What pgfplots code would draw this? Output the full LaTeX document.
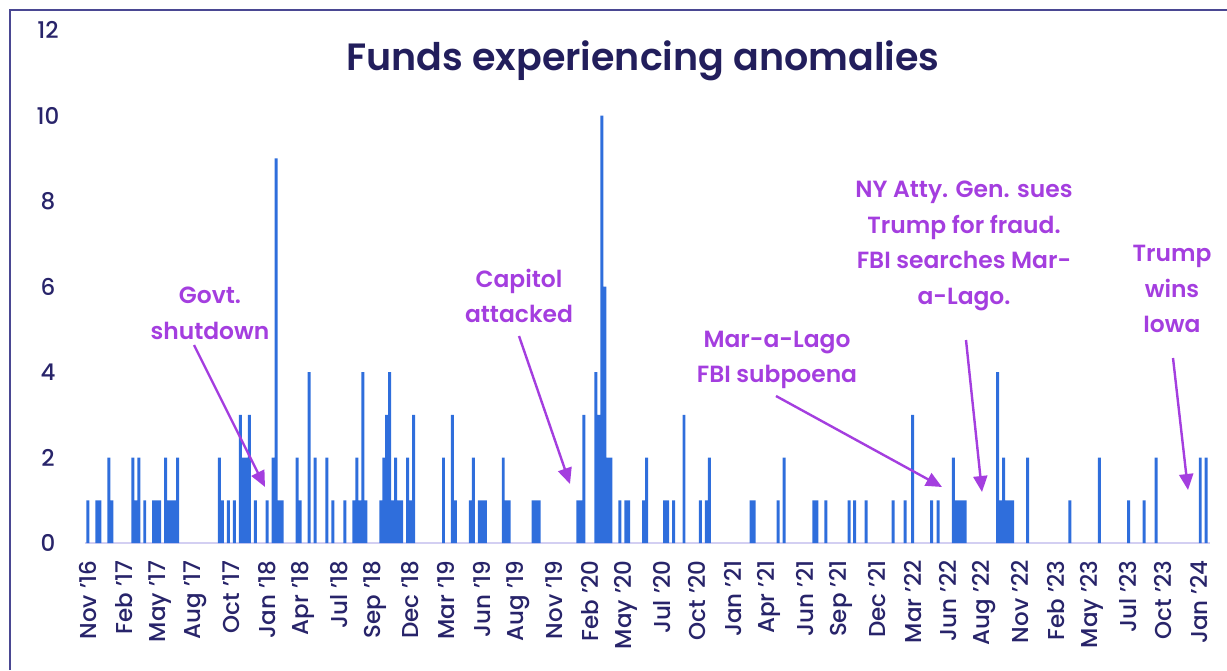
\documentclass[border=0pt]{standalone}
\usepackage{fontspec}
\setmainfont{Poppins}[UprightFont={* Medium}, BoldFont={* SemiBold}]
\usepackage{pgfplots}
\pgfplotsset{compat=1.18}
\usetikzlibrary{arrows.meta}
\definecolor{barblue}{HTML}{2F6EDC}
\definecolor{titlenavy}{HTML}{221E5C}
\definecolor{ticknavy}{HTML}{28246A}
\definecolor{annpurple}{HTML}{A43EDF}
\definecolor{basec}{HTML}{D3CFF2}
\definecolor{framec}{HTML}{4A4792}
\begin{document}
\begin{tikzpicture}
\begin{scope}[x=0.5pt,y=-0.5pt]
\useasboundingbox (0,0) rectangle (1227,670);
\draw[framec, line width=1pt] (9.5,670) -- (9.5,10) -- (1227,10);
\node[font=\fontsize{19}{22}\selectfont\bfseries, text=titlenavy] at (643,61) {Funds experiencing anomalies};
\begin{scope}[every node/.style={font=\fontsize{11.7}{17.9}\selectfont\bfseries, text=annpurple, align=center}]
\node at (210,313) {Govt.\\shutdown};
\node at (519,296) {Capitol\\attacked};
\node at (777,360) {Mar-a-Lago\\FBI subpoena};
\node at (964,246) {NY Atty. Gen. sues\\Trump for fraud.\\FBI searches Mar-\\a-Lago.};
\node at (1172,289) {Trump\\wins\\Iowa};
\end{scope}
\end{scope}
\begin{axis}[
  at={(42.5pt,-271.5pt)}, anchor=south west,
  scale only axis, width=562.7pt, height=256.5pt,
  xmin=-1, xmax=375.7, ymin=0, ymax=12,
  ybar, bar width=1,
  axis line style={draw=none},
  major tick length=0pt,
  ytick={0,2,4,6,8,10,12},
  xtick={0,12,...,372},
  xticklabels={Nov '16, Feb '17, May '17, Aug '17, Oct '17, Jan '18, Apr '18, Jul '18, Sep '18, Dec '18, Mar '19, Jun '19, Aug '19, Nov '19, Feb '20, May '20, Jul '20, Oct '20, Jan '21, Apr '21, Jun '21, Sep '21, Dec '21, Mar '22, Jun '22, Aug '22, Nov '22, Feb '23, May '23, Jul '23, Oct '23, Jan '24},
  tick label style={font=\fontsize{11.5}{13}\selectfont, text=ticknavy},
  /pgf/number format/assume math mode=true,
  xticklabel style={rotate=90, anchor=east, inner sep=0pt},
  xticklabel shift=8.5pt,
  yticklabel style={anchor=center, xshift=-18.5pt},
]
\draw[basec, line width=0.8pt] (axis cs:-1,0) -- (axis cs:375.7,0);
\addplot[fill=barblue, draw=none] coordinates {
(0,1)(3,1)(4,1)(7,2)(8,1)(15,2)(16,1)(17,2)(19,1)(22,1)(23,1)(24,1)(26,2)(27,1)(28,1)(29,1)(30,2)
(44,2)(45,1)(47,1)(49,1)(51,3)(52,2)(53,2)(54,3)(56,1)(60,1)(62,2)(63,9)(64,1)(65,1)(70,2)(71,1)(74,4)(76,2)(80,2)(82,1)(86,1)(89,1)(90,2)(91,1)(92,4)(93,1)
(98,1)(99,2)(100,3)(101,4)(102,1)(103,2)(104,1)(105,1)(107,2)(108,1)(109,3)(119,2)(122,3)(123,1)(128,1)(129,2)(131,1)(132,1)(133,1)(139,2)(140,1)(141,1)
(149,1)(150,1)(151,1)(164,1)(165,1)(166,3)(170,4)(171,3)(172,10)(173,6)(174,2)(175,2)(178,1)(180,1)(181,1)(186,1)(187,2)
(193,1)(194,1)(196,1)(199.5,3)(205,1)(207,1)(208,2)(222,1)(223,1)(231,1)(233,2)
(243,1)(244,1)(247,1)(254.8,1)(256.6,1)(260.5,1)(269.5,1)(273.5,1)(276,3)(282.4,1)(284.6,1)
(289.7,2)(290.7,1)(291.7,1)(292.7,1)(293.6,1)(304.5,4)(305.5,1)(306.5,2)(307.5,1)(308.5,1)(309.5,1)(314.5,2)(328.7,1)
(338.5,2)(348.3,1)(353.5,1)(357.5,2)(372.3,2)(374.3,2)
};
\end{axis}
\begin{scope}[x=0.5pt,y=-0.5pt]
\begin{scope}[annpurple, line width=1.2pt, -{Triangle[length=8pt,width=7pt]}]
\draw (194,345) -- (265,487);
\draw (519,336) -- (570,484);
\draw (776,396) -- (942,487);
\draw (966,340) -- (982,492);
\draw (1173,358) -- (1188,490);
\end{scope}
\end{scope}
\end{tikzpicture}
\end{document}
